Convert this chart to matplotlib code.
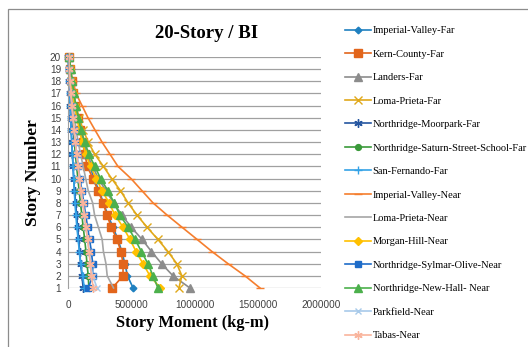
import matplotlib
matplotlib.use("Agg")
import matplotlib.pyplot as plt
from matplotlib.patches import Rectangle
from matplotlib.ticker import FuncFormatter

stories = list(range(1, 21))

# Story moments (kg-m), story 1 .. story 20
imperial_valley_far = [515000, 470000, 450000, 425000, 395000, 355000, 315000, 280000, 245000, 205000,
                       175000, 150000, 125000, 100000, 80000, 60000, 45000, 30000, 20000, 10000]
kern_county_far = [350000, 435000, 435000, 419000, 387000, 342000, 308000, 277000, 237000, 198000,
                   152000, 134000, 115000, 95000, 76000, 58000, 43000, 29000, 17000, 8000]
landers_far = [964000, 830000, 740000, 660000, 585000, 500000, 425000, 360000, 300000, 240000,
               195000, 150000, 120000, 95000, 75000, 57000, 42000, 30000, 18000, 8000]
loma_prieta_far = [877000, 900000, 860000, 790000, 710000, 625000, 545000, 475000, 415000, 345000,
                   280000, 212000, 160000, 120000, 88000, 63000, 42000, 25000, 13000, 5000]
northridge_moorpark_far = [120000, 110000, 100000, 92000, 85000, 76000, 68000, 60000, 52000, 45000,
                           40000, 35000, 30000, 25000, 20000, 16000, 12000, 8000, 5000, 2000]
northridge_saturn_far = [165000, 160000, 150000, 142000, 132000, 120000, 110000, 98000, 88000, 78000,
                         68000, 58000, 50000, 42000, 34000, 27000, 20000, 14000, 8000, 4000]
san_fernando_far = [130000, 115000, 100000, 90000, 80000, 70000, 62000, 55000, 50000, 45000,
                    40000, 35000, 30000, 25000, 20000, 16000, 12000, 9000, 6000, 3000]
imperial_valley_near = [1518000, 1399000, 1265000, 1138000, 1020000, 901000, 783000, 672000, 585000, 498000,
                        395000, 332000, 269000, 213000, 158000, 111000, 63000, 40000, 16000, 8000]
loma_prieta_near = [360000, 310000, 300000, 280000, 270000, 240000, 210000, 195000, 160000, 140000,
                    120000, 100000, 80000, 65000, 50000, 40000, 30000, 20000, 12000, 5000]
morgan_hill_near = [730000, 648000, 593000, 538000, 490000, 435000, 372000, 324000, 270000, 225000,
                    178000, 142000, 112000, 90000, 70000, 52000, 37000, 26000, 15000, 7000]
northridge_sylmar_near = [160000, 195000, 195000, 185000, 170000, 155000, 140000, 125000, 110000, 95000,
                          80000, 70000, 55000, 45000, 35000, 28000, 20000, 15000, 10000, 5000]
northridge_newhall_near = [711000, 672000, 632000, 580000, 530000, 475000, 410000, 365000, 315000, 258000,
                           212000, 165000, 132000, 104000, 82000, 62000, 46000, 34000, 21000, 10000]
parkfield_near = [230000, 195000, 180000, 168000, 155000, 142000, 130000, 117000, 103000, 92000,
                  80000, 70000, 58000, 48000, 38000, 30000, 22000, 15000, 9000, 4000]
tabas_near = [200000, 185000, 175000, 165000, 155000, 140000, 130000, 115000, 100000, 90000,
              80000, 68000, 58000, 48000, 40000, 30000, 23000, 16000, 10000, 4000]

x_ticks = [0, 500000, 1000000, 1500000, 2000000]

series = [
    ("Imperial-Valley-Far", imperial_valley_far, "#1F80C0", "D", 3.4),
    ("Kern-County-Far", kern_county_far, "#E2651B", "s", 5.2),
    ("Landers-Far", landers_far, "#8C8C8C", "^", 5.2),
    ("Loma-Prieta-Far", loma_prieta_far, "#E0A81A", "x", 5.5),
    ("Northridge-Moorpark-Far", northridge_moorpark_far, "#2455A0", (6, 2, 0), 6.0),
    ("Northridge-Saturn-Street-School-Far", northridge_saturn_far, "#3A9A3A", "o", 4.2),
    ("San-Fernando-Far", san_fernando_far, "#33A2E6", "+", 6.0),
    ("Imperial-Valley-Near", imperial_valley_near, "#F57E2E", "_", 6.0),
    ("Loma-Prieta-Near", loma_prieta_near, "#A6A6A6", "None", 0),
    ("Morgan-Hill-Near", morgan_hill_near, "#FFC000", "D", 4.2),
    ("Northridge-Sylmar-Olive-Near", northridge_sylmar_near, "#1E6CC8", "s", 4.7),
    ("Northridge-New-Hall- Near", northridge_newhall_near, "#4CB04C", "^", 5.2),
    ("Parkfield-Near", parkfield_near, "#A8CAEA", "x", 5.0),
    ("Tabas-Near", tabas_near, "#F9B49C", (6, 2, 0), 6.0),
]

W, H = 528, 347
fig = plt.figure(figsize=(W / 100, H / 100), dpi=100)
fig.patch.set_facecolor("white")

# chart border (open at the bottom and right edges of the image)
fig.add_artist(Rectangle((8 / W, -0.1), 1.0, 1.1 - 9 / H, transform=fig.transFigure,
                         fill=False, edgecolor="#8C8C8C", linewidth=0.9))

ax = fig.add_axes([68 / W, 1 - 288 / H, (321 - 68) / W, (288 - 57) / H])

for name, vals, color, marker, ms in series:
    ax.plot(vals, stories, color=color, linewidth=1.2, marker=marker, markersize=ms,
            markeredgewidth=1.0, label=name, clip_on=False)

ax.set_xlim(0, 2000000)
ax.set_ylim(1, 20)
ax.set_yticks(stories)
ax.set_xticks(x_ticks)
ax.xaxis.set_major_formatter(FuncFormatter(lambda v, p: f"{int(v)}"))
ax.grid(axis="y", color="#A0A0A0", linewidth=0.9)
ax.set_axisbelow(True)
for side in ("top", "right", "bottom"):
    ax.spines[side].set_visible(False)
ax.spines["left"].set_color("#A0A0A0")
ax.tick_params(axis="both", length=0, labelsize=7.2, colors="#404040")
ax.tick_params(axis="x", pad=9)
ax.tick_params(axis="y", pad=5)
for lab in ax.get_xticklabels() + ax.get_yticklabels():
    lab.set_family("Liberation Sans")

serif = "Liberation Serif"
fig.text(207 / W, 1 - 33 / H, "20-Story / BI", ha="center", va="center",
         family=serif, fontweight="bold", fontsize=13.5)
fig.text(193 / W, 1 - 323 / H, "Story Moment (kg-m)", ha="center", va="center",
         family=serif, fontweight="bold", fontsize=11.8)
fig.text(33 / W, 1 - 173 / H, "Story Number", ha="center", va="center", rotation=90,
         family=serif, fontweight="bold", fontsize=12.5)

leg = fig.legend(loc="upper left", bbox_to_anchor=(345 / W, 1 - 26 / H),
                 frameon=False, prop={"family": serif, "size": 7.5},
                 handlelength=2.5, handletextpad=0.15, labelspacing=1.36,
                 borderaxespad=0, borderpad=0)

fig.savefig("out.png", dpi=100)
